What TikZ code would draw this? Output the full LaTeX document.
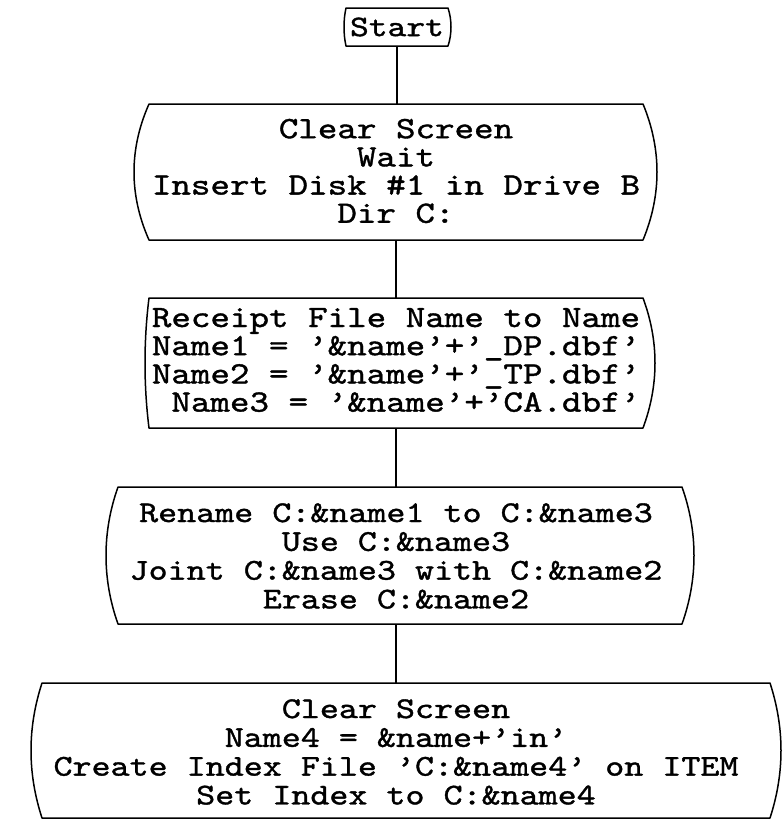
\documentclass[tikz,border=0pt]{standalone}
\usepackage{fontspec}
\newfontfamily\tyfont{lmmono10-regular.otf}[FakeBold=1.2, FakeStretch=1.2]
\newcommand\bulgebox[4]{% node name, left bulge, right bulge, vertical control offset
  \draw[shapeline] (#1.north west) -- (#1.north east)
    .. controls +({4*#3/3},-#4) and +({4*#3/3},#4) .. (#1.south east)
    -- (#1.south west)
    .. controls +({-4*#2/3},#4) and +({-4*#2/3},-#4) .. (#1.north west);
}
\begin{document}
\begin{tikzpicture}[x=1pt,y=1pt,
  boxnode/.style={draw=none, inner sep=0pt, outer sep=0pt},
  bigtxt/.style={font=\fontsize{31}{28.2}\selectfont\tyfont},
  smalltxt/.style={font=\fontsize{30.2}{28.8}\selectfont\tyfont},
  txtnode/.style={inner sep=0pt, align=center},
  edge/.style={line width=1.3pt},
  shapeline/.style={line width=1.5pt, line join=round, line cap=round}]
\useasboundingbox (0,0) rectangle (782,-820);

% Start
\node[boxnode, font=\fontsize{29.8}{28}\selectfont\tyfont,
      minimum width=102pt, minimum height=38pt] (start) at (397,-27) {Start};
\bulgebox{start}{2}{3}{12}

% Box 1
\node[boxnode, minimum width=494pt, minimum height=136pt] (b1) at (396,-172) {};
\node[txtnode, bigtxt] (t1) at (396,-171)
  {Clear Screen\\Wait\\Insert Disk \#1 in Drive B\\Dir C:};
\bulgebox{b1}{15}{14}{45}

% Box 2
\node[boxnode, minimum width=494pt, minimum height=130pt] (b2) at (396,-363) {};
\node[txtnode, bigtxt] (t2) at (396,-360)
  {Receipt File Name to Name\\
   Name1 = ’\&name’+’\_DP.dbf’\\
   Name2 = ’\&name’+’\_TP.dbf’\\
   \hphantom{N}Name3 = ’\&name’+’CA.dbf’};
\bulgebox{b2}{4}{12}{43}

% Box 3
\node[boxnode, minimum width=564pt, minimum height=137pt] (b3) at (400,-555.5) {};
\node[txtnode, smalltxt] (t3) at (396,-556)
  {Rename C:\&name1 to C:\&name3\\
   Use C:\&name3\\
   Joint C:\&name3 with C:\&name2\\
   Erase C:\&name2};
\bulgebox{b3}{12}{12}{45}

% Box 4
\node[boxnode, minimum width=728pt, minimum height=135pt] (b4) at (406,-750.5) {};
\node[txtnode, smalltxt] (t4) at (396,-752)
  {Clear Screen\\
   Name4 = \&name+’in’\\
   Create Index File ’C:\&name4’ on ITEM\\
   Set Index to C:\&name4};
\bulgebox{b4}{11}{11}{45}

% connectors
\draw[edge] (start.south) -- (start.south |- b1.north);
\draw[edge] (b1.south) -- (b1.south |- b2.north);
\draw[edge] (b2.south) -- (b2.south |- b3.north);
\draw[edge] (b2.south |- b3.south) -- (b2.south |- b4.north);
\end{tikzpicture}
\end{document}
